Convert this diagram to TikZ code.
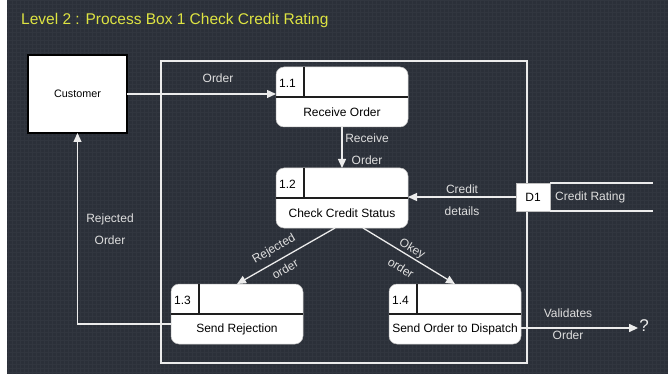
\documentclass[tikz,border=0pt]{standalone}
\usepackage{fontspec}
\setmainfont{Liberation Sans}
\usetikzlibrary{arrows.meta,calc}

\definecolor{board}{RGB}{43,48,57}
\definecolor{gridline}{RGB}{49,54,63}
\definecolor{titleyellow}{RGB}{222,228,66}
\definecolor{chalk}{RGB}{236,236,236}
\definecolor{labelgrey}{RGB}{222,222,222}
\definecolor{inkline}{RGB}{30,30,30}

\tikzset{
  procshape/.style={rectangle, rounded corners=8pt, fill=white, draw=gray!50,
    line width=0.5pt, minimum width=132pt, minimum height=60pt, inner sep=0pt, outer sep=0pt},
  extbox/.style={rectangle, fill=white, draw=black, line width=1.2pt,
    minimum width=99pt, minimum height=78pt, inner sep=0pt, outer sep=0pt, font=\fontsize{10.8}{12}\selectfont},
  storebox/.style={rectangle, fill=white, draw=gray!50, line width=0.5pt,
    minimum width=34pt, minimum height=28pt, inner sep=0pt, outer sep=0pt, font=\fontsize{12}{14}\selectfont},
  inner line/.style={draw=inkline, line width=1.2pt},
  idtext/.style={inner sep=0pt, font=\fontsize{12}{14}\selectfont, text=black},
  boxtext/.style={inner sep=0pt, font=\fontsize{12}{14}\selectfont, text=black},
  frameline/.style={draw=chalk, line width=1.2pt},
  flow/.style={draw=chalk, line width=1.3pt, -{Triangle[length=9pt,width=8pt]}},
  flowlabel/.style={text=labelgrey, align=center, inner sep=0pt,
    font=\fontsize{12}{22}\selectfont},
  storeline/.style={draw=chalk, line width=1.2pt},
}

% process box: name, top-left corner, number, title
\newcommand{\procbox}[4]{%
  \node[procshape, anchor=north west] (#1) at (#2) {};
  \draw[inner line] ($(#1.north west)+(0,30)$) -- ($(#1.north east)+(0,30)$);
  \draw[inner line] ($(#1.north west)+(28,0)$) -- ($(#1.north west)+(28,30)$);
  \node[idtext, anchor=west] (#1id) at ($(#1.north west)+(3,16)$) {#3};
  \node[boxtext] (#1name) at ($(#1.south)+(0,-15)$) {#4};
}

\begin{document}
\begin{tikzpicture}[x=1pt, y=-1pt]
  % page and chalkboard background
  \fill[white] (0,0) rectangle (668,379);
  \useasboundingbox (0,0) rectangle (668,379);
  \fill[board] (7,0) rectangle (668,374);
  \begin{scope}
    \clip (7,0) rectangle (668,374);
    \draw[gridline, line width=0.3pt] (7,0) grid[step=4pt] (668,374);
  \end{scope}

  % title
  \node[anchor=west, text=titleyellow, inner sep=0pt, font=\fontsize{15.5}{18}\selectfont]
    (title) at (21,20) {Level 2 : Process Box 1 Check Credit Rating};

  % boundary of process 1
  \node[frameline, rectangle, anchor=north west, minimum width=366pt, minimum height=302pt,
    inner sep=0pt, outer sep=0pt] (bound) at (161,61) {};

  % external entity
  \node[extbox, anchor=north west] (cust) at (28,55) {Customer};

  % processes
  \procbox{p11}{276,67}{1.1}{Receive Order}
  \procbox{p12}{276,168}{1.2}{Check Credit Status}
  \procbox{p13}{171,284}{1.3}{Send Rejection}
  \procbox{p14}{389,284}{1.4}{Send Order to Dispatch}

  % data store
  \node[storebox, anchor=north west] (d1) at (516,183) {D1};
  \draw[storeline] (d1.north east) -- ++(103,0) coordinate (d1top);
  \draw[storeline] (d1.south east) -- ++(103,0) coordinate (d1bot);
  \node[anchor=west, text=labelgrey, inner sep=0pt, font=\fontsize{12}{14}\selectfont]
    (d1name) at ($(d1.east)+(5,0)$) {Credit Rating};

  % unknown destination
  \node[text=chalk, inner sep=1pt, font=\fontsize{17}{19}\selectfont] (dest) at (644,326) {?};

  % data flows
  \draw[flow] (cust.east) -- (cust.east -| p11.west);
  \draw[flow] (p11.south) -- (p12.north);
  \draw[flow] (d1.west) -- (d1.west -| p12.east);
  \draw[flow] ($(p12.south)+(-7,0)$) -- (p13.north);
  \draw[flow] ($(p12.south)+(21,0)$) -- (p14.north);
  \draw[flow] ($(p13.west)+(0,10)$) -| (cust.south);
  \coordinate (p14out) at ($(p14.east)+(0,14)$);
  \draw[flow] (p14out) -- (p14out -| dest.west);

  % flow labels
  \node[flowlabel] (lorder) at (218,78) {Order};
  \node[flowlabel] (lrecv) at (367,149) {Receive\\Order};
  \node[flowlabel] (lcred) at (462,200) {Credit\\details};
  \node[flowlabel] (lrejo) at (110,229) {Rejected\\Order};
  \node[flowlabel, rotate=30] (lrej1) at (274,249) {Rejected};
  \node[flowlabel, rotate=30] (lrej2) at (285,269) {order};
  \node[flowlabel, rotate=-32] (lokey1) at (412,249) {Okey};
  \node[flowlabel, rotate=-32] (lokey2) at (401,268) {order};
  \node[flowlabel] (lvalid) at (568,324) {Validates\\Order};
\end{tikzpicture}
\end{document}
